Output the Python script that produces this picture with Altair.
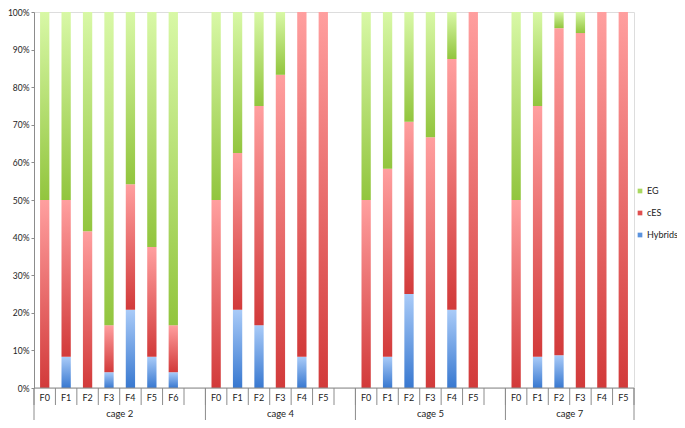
import altair as alt
import pandas as pd

cage_names = ["cage 2", "cage 4", "cage 5", "cage 7"]
generations = [
    ["F0", "F1", "F2", "F3", "F4", "F5", "F6"],
    ["F0", "F1", "F2", "F3", "F4", "F5"],
    ["F0", "F1", "F2", "F3", "F4", "F5"],
    ["F0", "F1", "F2", "F3", "F4", "F5"],
]
hybrids = [
    [0, 8.3, 0, 4.2, 20.8, 8.3, 4.2],
    [0, 20.8, 16.7, 0, 8.3, 0],
    [0, 8.3, 25.0, 0, 20.8, 0],
    [0, 8.3, 8.7, 0, 0, 0],
]
ces = [
    [50.0, 41.7, 41.7, 12.5, 33.4, 29.2, 12.5],
    [50.0, 41.7, 58.3, 83.3, 91.7, 100.0],
    [50.0, 50.0, 45.8, 66.7, 66.7, 100.0],
    [50.0, 66.7, 87.0, 94.4, 100.0, 100.0],
]
eg = [
    [50.0, 50.0, 58.3, 83.3, 45.8, 62.5, 83.3],
    [50.0, 37.5, 25.0, 16.7, 0, 0],
    [50.0, 41.7, 29.2, 33.3, 12.5, 0],
    [50.0, 25.0, 4.3, 5.6, 0, 0],
]
series_names = ["EG", "cES", "Hybrids"]
y_ticks = [0, 10, 20, 30, 40, 50, 60, 70, 80, 90, 100]

FONT = "Lato"
W, H = 600, 376

gradients = {
    "EG": ("#d8f8a6", "#92c53e"),
    "cES": ("#ff9f9f", "#d23a3a"),
    "Hybrids": ("#a9cbf8", "#3878d0"),
}
legend_colors = {"EG": "#a9d860", "cES": "#e04f4f", "Hybrids": "#5b93de"}

rows, gen_rows, cage_rows, bounds = [], [], [], []
slot = 0
for ci, cage in enumerate(cage_names):
    start = slot
    for gi, g in enumerate(generations[ci]):
        h, c, e = hybrids[ci][gi], ces[ci][gi], eg[ci][gi]
        pos = slot + 0.5
        rows.append(dict(pos=pos, series="Hybrids", y0=0, y1=h))
        rows.append(dict(pos=pos, series="cES", y0=h, y1=h + c))
        rows.append(dict(pos=pos, series="EG", y0=h + c, y1=h + c + e))
        gen_rows.append(dict(pos=pos, label=g))
        slot += 1
    if ci < len(cage_names) - 1:
        slot += 1
    cage_rows.append(dict(pos=(start + slot) / 2, label=cage))
    bounds.append(start)
bounds.append(slot)
n_slots = slot

df = pd.DataFrame(rows)
gen_df = pd.DataFrame(gen_rows)
cage_df = pd.DataFrame(cage_rows)
inner_df = pd.DataFrame({"b": list(range(n_slots + 1))})
group_df = pd.DataFrame({"b": bounds})
base_df = pd.DataFrame({"x0": [0], "x1": [n_slots]})
leg_df = pd.DataFrame({"series": series_names, "idx": [0, 1, 2]})

xscale = alt.Scale(domain=[0, n_slots], nice=False, zero=False, padding=0)
yscale = alt.Scale(domain=[0, 100], nice=False, padding=0)

yaxis = alt.Axis(
    values=y_ticks, labelExpr="datum.value + '%'", title=None, grid=False,
    domainColor="#8c8c8c", tickColor="#8c8c8c", tickSize=3, labelPadding=2,
    labelFont=FONT, labelFontSize=8.5, labelColor="#222222",
)

layers = []
for s in ["Hybrids", "cES", "EG"]:
    top, bot = gradients[s]
    grad = alt.LinearGradient(
        gradient="linear", x1=0, y1=0, x2=0, y2=1,
        stops=[alt.GradientStop(offset=0, color=top), alt.GradientStop(offset=1, color=bot)],
    )
    layers.append(
        alt.Chart(df[df.series == s]).mark_bar(size=9.3, color=grad).encode(
            x=alt.X("pos:Q", scale=xscale, axis=None),
            y=alt.Y("y0:Q", scale=yscale, axis=yaxis),
            y2="y1:Q",
        )
    )

baseline = alt.Chart(base_df).mark_rule(color="#8c8c8c").encode(
    x=alt.X("x0:Q", scale=xscale, axis=None), x2="x1:Q", y=alt.value(H)
)
inner = alt.Chart(inner_df).mark_rule(color="#8c8c8c").encode(
    x=alt.X("b:Q", scale=xscale, axis=None), y=alt.value(H), y2=alt.value(H + 17)
)
groups = alt.Chart(group_df).mark_rule(color="#8c8c8c").encode(
    x=alt.X("b:Q", scale=xscale, axis=None), y=alt.value(H), y2=alt.value(H + 32)
)
gen_text = alt.Chart(gen_df).mark_text(font=FONT, fontSize=9, color="#222222").encode(
    x=alt.X("pos:Q", scale=xscale, axis=None), y=alt.value(H + 10), text="label:N"
)
cage_text = alt.Chart(cage_df).mark_text(font=FONT, fontSize=9.5, color="#222222").encode(
    x=alt.X("pos:Q", scale=xscale, axis=None), y=alt.value(H + 26), text="label:N"
)
leg_sq = alt.Chart(leg_df).transform_calculate(ly="179 + 22 * datum.idx").mark_square(
    size=22, opacity=1
).encode(
    x=alt.value(606),
    y=alt.Y("ly:Q", scale=None),
    color=alt.Color("series:N", scale=alt.Scale(domain=series_names,
                    range=[legend_colors[s] for s in series_names]), legend=None),
)
leg_txt = alt.Chart(leg_df).transform_calculate(ly="179 + 22 * datum.idx").mark_text(
    font=FONT, fontSize=9, color="#222222", align="left"
).encode(x=alt.value(613), y=alt.Y("ly:Q", scale=None), text="series:N")

chart = alt.layer(
    *layers, baseline, inner, groups, gen_text, cage_text, leg_sq, leg_txt
).properties(
    width=W, height=H,
    padding={"left": 26, "top": 4, "right": 43, "bottom": 32},
    autosize=alt.AutoSizeParams(type="none"),
).configure_view(stroke=None).configure(background="white")

chart.save("out.html", embed_options={"renderer": "svg", "actions": False})
